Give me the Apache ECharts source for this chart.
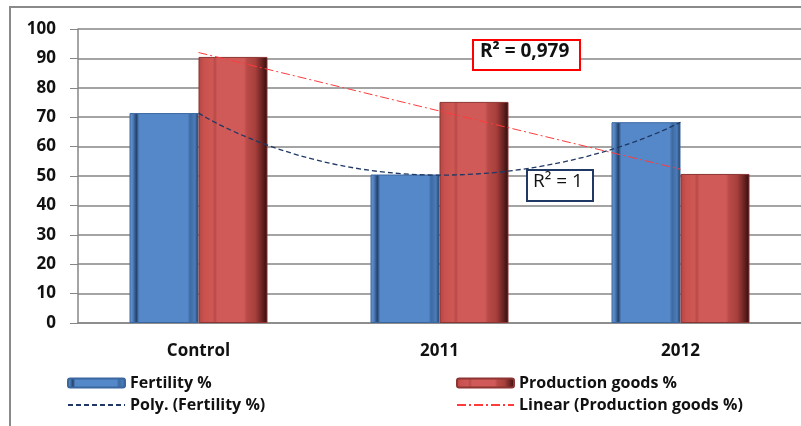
<!DOCTYPE html>
<html>
<head>
<meta charset="utf-8">
<script src="https://cdn.jsdelivr.net/npm/echarts@6/dist/echarts.min.js"></script>
<style>
html,body{margin:0;padding:0;background:#fff;}
#chart{width:801px;height:426px;}
</style>
</head>
<body>
<div id="chart"></div>
<script>
// categories and values
var categories = ['Control', '2011', '2012'];
var fertility = [71.4, 50.5, 68.3];          // Fertility %
var production = [90.5, 75.2, 50.7];         // Production goods %
// trend lines as drawn (read at the category centres)
var polyTrend = [71.4, 50.3, 68.3];          // Poly. (Fertility %)
var linearTrend = [92.0, 72.1, 52.3];        // Linear (Production goods %)
var yTicks = [0, 100, 10];                   // min, max, step

var font = '"Open Sans", "Liberation Sans", sans-serif';

var blueFill = new echarts.graphic.LinearGradient(0, 0, 1, 0, [
	{offset: 0, color: '#6f9ad2'},
	{offset: 0.05, color: '#4f7fbe'},
	{offset: 0.1, color: '#24426b'},
	{offset: 0.14, color: '#5588c8'},
	{offset: 0.84, color: '#5588c8'},
	{offset: 0.88, color: '#3d6aa2'},
	{offset: 0.95, color: '#4c7cba'},
	{offset: 1, color: '#1b3150'}
]);
var redFill = new echarts.graphic.LinearGradient(0, 0, 1, 0, [
	{offset: 0, color: '#b34643'},
	{offset: 0.08, color: '#c9524f'},
	{offset: 0.2, color: '#cf5855'},
	{offset: 0.24, color: '#b84a47'},
	{offset: 0.27, color: '#d05a57'},
	{offset: 0.66, color: '#d05a57'},
	{offset: 0.7, color: '#b84a47'},
	{offset: 0.82, color: '#a9403d'},
	{offset: 0.92, color: '#6a2422'},
	{offset: 1, color: '#2e0c0c'}
]);

var hideDot = {color: 'rgba(0,0,0,0)', borderColor: 'rgba(0,0,0,0)', borderWidth: 0};

var chart = echarts.init(document.getElementById('chart'));
chart.setOption({
	backgroundColor: '#fff',
	animation: false,
	grid: {left: 78, top: 29, width: 726, height: 294},
	legend: [
		{left: 67, top: 375, data: ['Fertility %']},
		{left: 67, top: 397, data: ['Poly. (Fertility %)'], itemStyle: hideDot},
		{left: 456, top: 375, data: ['Production goods %']},
		{left: 456, top: 397, data: ['Linear (Production goods %)'], itemStyle: hideDot}
	].map(function (l) {
		l.itemWidth = 57;
		l.itemHeight = 9;
		l.itemGap = 6;
		l.padding = 0;
		l.textStyle = {fontFamily: font, fontWeight: 'bold', fontSize: 16, color: '#111'};
		return l;
	}),
	xAxis: {
		type: 'category',
		data: categories,
		axisLine: {lineStyle: {color: '#868686', width: 1.5}},
		axisTick: {length: 6, lineStyle: {color: '#868686'}},
		axisLabel: {margin: 20, fontFamily: font, fontWeight: 'bold', fontSize: 17, color: '#111'}
	},
	yAxis: {
		type: 'value',
		min: yTicks[0], max: yTicks[1], interval: yTicks[2],
		axisLine: {show: true, lineStyle: {color: '#868686', width: 1.5}},
		axisTick: {show: true, length: 8, lineStyle: {color: '#868686'}},
		axisLabel: {margin: 22, fontFamily: font, fontWeight: 'bold', fontSize: 17, color: '#111'},
		splitLine: {lineStyle: {color: '#868686', width: 1.5}}
	},
	series: [
		{
			name: 'Fertility %', type: 'bar', data: fertility,
			barWidth: 69, barGap: '0%',
			itemStyle: {color: blueFill, borderColor: '#3b67a0', borderWidth: 1}
		},
		{
			name: 'Production goods %', type: 'bar', data: production,
			barWidth: 69,
			itemStyle: {color: redFill, borderColor: '#8c3532', borderWidth: 1}
		},
		{
			name: 'Poly. (Fertility %)', type: 'line', data: polyTrend,
			smooth: 0.6, symbol: 'circle', showSymbol: false, z: 5,
			lineStyle: {color: '#1f3864', width: 1.3, type: [5, 3]},
			itemStyle: {color: '#1f3864'}
		},
		{
			name: 'Linear (Production goods %)', type: 'line', data: linearTrend,
			symbol: 'circle', showSymbol: false, z: 5,
			lineStyle: {color: '#ff3b3b', width: 1, type: [9, 3, 2, 3]},
			itemStyle: {color: '#ff3b3b'}
		}
	],
	graphic: [
		// outer frame (top and left edges visible)
		{type: 'polyline', silent: true, shape: {points: [[10, 426], [10, 7], [801, 7]]},
			style: {stroke: '#8a8a8a', lineWidth: 2, fill: null}},
		{type: 'rect', left: 472, top: 39, silent: true, z: 10,
			shape: {width: 107, height: 30},
			style: {fill: '#fff', stroke: '#ff0000', lineWidth: 2}},
		{type: 'text', left: 480, top: 42, silent: true, z: 11,
			style: {text: 'R² = 0,979', fill: '#111', font: 'bold 19px ' + font}},
		{type: 'rect', left: 526, top: 169, silent: true, z: 10,
			shape: {width: 66, height: 31},
			style: {fill: '#fff', stroke: '#1f3864', lineWidth: 2}},
		{type: 'text', left: 533, top: 172, silent: true, z: 11,
			style: {text: 'R² = 1', fill: '#111', font: '19px ' + font}}
	]
});
</script>
</body>
</html>
